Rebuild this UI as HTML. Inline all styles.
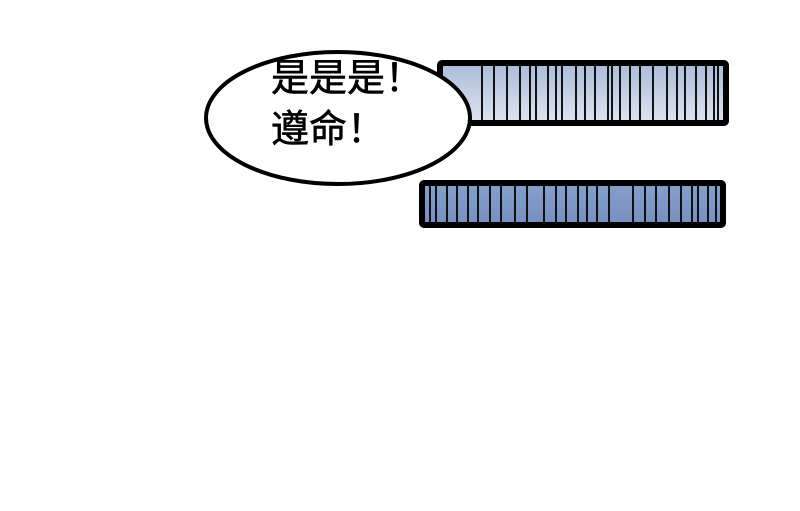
<!DOCTYPE html>
<html><head><meta charset="utf-8"><style>
html,body{margin:0;padding:0;background:#fff;width:800px;height:511px;overflow:hidden}
</style></head><body>
<svg width="800" height="511" xmlns="http://www.w3.org/2000/svg">
<defs>
<linearGradient id="g1" x1="0" y1="0" x2="0" y2="1"><stop offset="0" stop-color="#aabbd8"/><stop offset="1" stop-color="#dde4f0"/></linearGradient>
<linearGradient id="g2" x1="0" y1="0" x2="0" y2="1"><stop offset="0" stop-color="#86a0cc"/><stop offset="1" stop-color="#7590c0"/></linearGradient>
</defs>
<rect x="440" y="63" width="286" height="60" rx="2" fill="url(#g1)" stroke="#000" stroke-width="6"/>
<g stroke="#111" stroke-width="2">
<line x1="482" y1="66" x2="482" y2="120"/><line x1="494" y1="66" x2="494" y2="120"/><line x1="507" y1="66" x2="507" y2="120"/><line x1="520" y1="66" x2="520" y2="120"/><line x1="530" y1="66" x2="530" y2="120"/><line x1="536" y1="66" x2="536" y2="120"/><line x1="548" y1="66" x2="548" y2="120"/><line x1="556" y1="66" x2="556" y2="120"/><line x1="562" y1="66" x2="562" y2="120"/><line x1="576" y1="66" x2="576" y2="120"/><line x1="585" y1="66" x2="585" y2="120"/><line x1="595" y1="66" x2="595" y2="120"/><line x1="608" y1="66" x2="608" y2="120"/><line x1="612" y1="66" x2="612" y2="120"/><line x1="620" y1="66" x2="620" y2="120"/><line x1="630" y1="66" x2="630" y2="120"/><line x1="640" y1="66" x2="640" y2="120"/><line x1="653" y1="66" x2="653" y2="120"/><line x1="667" y1="66" x2="667" y2="120"/><line x1="677" y1="66" x2="677" y2="120"/><line x1="685" y1="66" x2="685" y2="120"/><line x1="696" y1="66" x2="696" y2="120"/><line x1="706" y1="66" x2="706" y2="120"/><line x1="714" y1="66" x2="714" y2="120"/><line x1="718" y1="66" x2="718" y2="120"/>
</g>
<rect x="422" y="183" width="301" height="42" rx="2" fill="url(#g2)" stroke="#000" stroke-width="6"/>
<g stroke="#111" stroke-width="2">
<line x1="430" y1="186" x2="430" y2="222"/><line x1="436" y1="186" x2="436" y2="222"/><line x1="447" y1="186" x2="447" y2="222"/><line x1="457" y1="186" x2="457" y2="222"/><line x1="468" y1="186" x2="468" y2="222"/><line x1="478" y1="186" x2="478" y2="222"/><line x1="490" y1="186" x2="490" y2="222"/><line x1="501" y1="186" x2="501" y2="222"/><line x1="515" y1="186" x2="515" y2="222"/><line x1="527" y1="186" x2="527" y2="222"/><line x1="544" y1="186" x2="544" y2="222"/><line x1="556" y1="186" x2="556" y2="222"/><line x1="566" y1="186" x2="566" y2="222"/><line x1="578" y1="186" x2="578" y2="222"/><line x1="587" y1="186" x2="587" y2="222"/><line x1="597" y1="186" x2="597" y2="222"/><line x1="609" y1="186" x2="609" y2="222"/><line x1="633" y1="186" x2="633" y2="222"/><line x1="645" y1="186" x2="645" y2="222"/><line x1="656" y1="186" x2="656" y2="222"/><line x1="669" y1="186" x2="669" y2="222"/><line x1="681" y1="186" x2="681" y2="222"/><line x1="692" y1="186" x2="692" y2="222"/><line x1="698" y1="186" x2="698" y2="222"/><line x1="708" y1="186" x2="708" y2="222"/><line x1="716" y1="186" x2="716" y2="222"/>
</g>
<ellipse cx="338" cy="118" rx="132" ry="66" fill="#fff" stroke="#000" stroke-width="4"/>
<g font-family="'Liberation Sans','Noto Sans CJK SC',sans-serif" font-size="38" fill="#000" stroke="#000" stroke-width="0.6">
<text x="271" y="91">是是是！</text>
<text x="271" y="142">遵命！</text>
</g>
</svg>
</body></html>
